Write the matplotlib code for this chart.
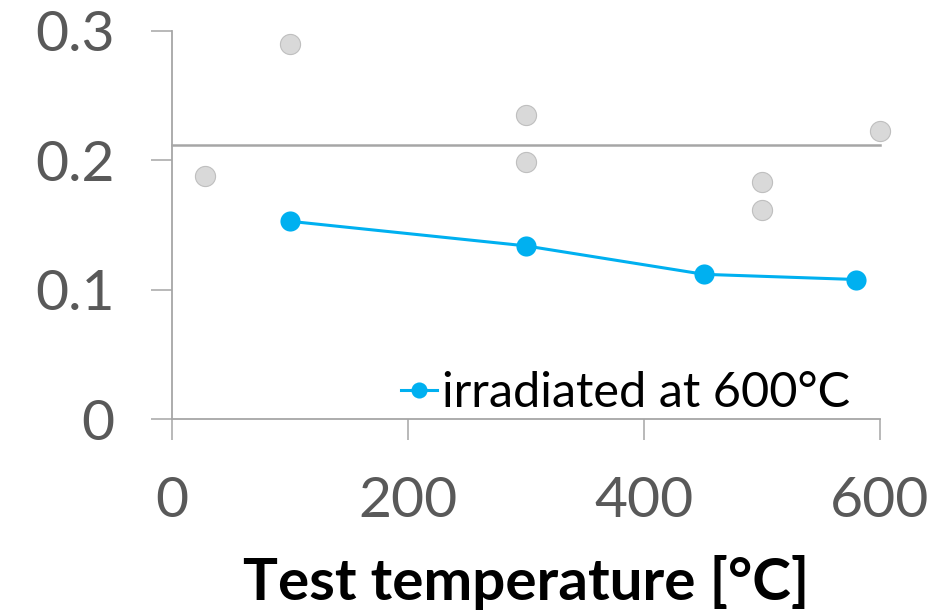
import matplotlib
matplotlib.use("Agg")
import matplotlib.pyplot as plt

# Reference (unirradiated) measurements
ref_temp = [28, 100, 300, 300, 500, 500, 600]
ref_val = [0.188, 0.290, 0.235, 0.199, 0.183, 0.162, 0.223]

# Irradiated at 600 °C
irr_temp = [100, 300, 451, 580]
irr_val = [0.153, 0.134, 0.112, 0.108]

# Horizontal reference level
ref_level = 0.212

x_ticks = [0, 200, 400, 600]
y_ticks = [0, 0.1, 0.2, 0.3]
y_labels = ["0", "0.1", "0.2", "0.3"]

plt.rcParams["font.family"] = ["Lato", "DejaVu Sans"]

fig = plt.figure(figsize=(9.53, 6.16), dpi=100)
ax = fig.add_axes([0.18, 0.3193, 0.7434, 0.6304])

gray = "#A6A6A6"
ax.plot([0, 600], [ref_level, ref_level], color=gray, lw=1.8, clip_on=False, zorder=2)

ax.plot(ref_temp, ref_val, linestyle="none", marker="o", markersize=14.5,
        markerfacecolor="#D9D9D9", markeredgecolor="#BFBFBF", markeredgewidth=0.8,
        clip_on=False, zorder=3)

ax.plot(irr_temp, irr_val, color="#00B0F0", lw=2.2, marker="o", markersize=14.5,
        markeredgewidth=0, clip_on=False, zorder=4, label="irradiated at 600°C")

ax.set_xlim(0, 600)
ax.set_ylim(0, 0.3)
ax.set_xticks(x_ticks)
ax.set_yticks(y_ticks)
ax.set_yticklabels(y_labels)

for s in ["top", "right"]:
    ax.spines[s].set_visible(False)
for s in ["left", "bottom"]:
    ax.spines[s].set_color(gray)
    ax.spines[s].set_linewidth(1.3)

ax.tick_params(axis="both", direction="out", length=15, width=1.1, color=gray,
               labelsize=41, labelcolor="#595959", pad=26)

ax.set_xlabel("Test temperature [°C]", fontsize=42, fontweight="bold",
              color="black", labelpad=20)

leg = ax.legend(loc="lower right", bbox_to_anchor=(0.958, 0.012), frameon=False,
                fontsize=35, handlelength=0.75, handletextpad=0.1,
                borderaxespad=0.0, borderpad=0.0, markerscale=0.8)

fig.savefig("out.png", dpi=100)
